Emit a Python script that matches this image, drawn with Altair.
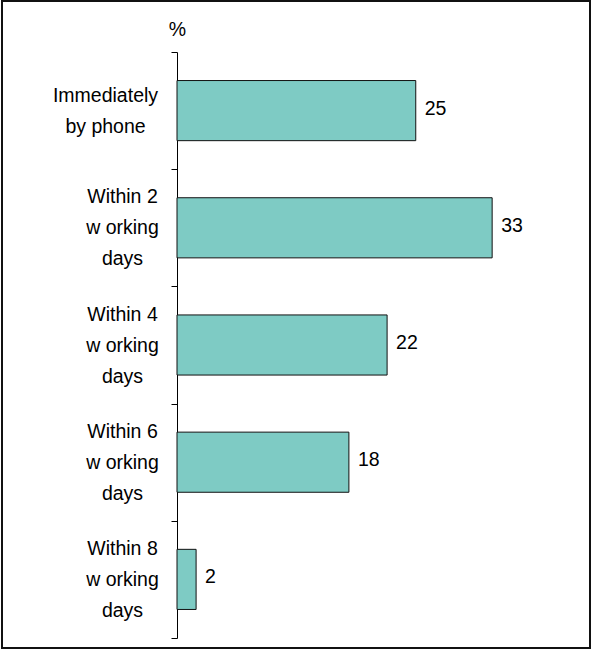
import altair as alt
import pandas as pd

categories = [
    "Immediately|by phone",
    "Within 2|w orking|days",
    "Within 4|w orking|days",
    "Within 6|w orking|days",
    "Within 8|w orking|days",
]
values = [25, 33, 22, 18, 2]

df = pd.DataFrame({"cat": categories, "val": values})

FONT = "Liberation Sans"
FS = 19.5
FIRST = "datum.value == 'Immediately|by phone'"

y_enc = alt.Y(
    "cat:N",
    sort=categories,
    scale=alt.Scale(paddingInner=0, paddingOuter=0),
    axis=alt.Axis(
        title="%",
        titleAngle=0,
        titleX=0,
        titleY=-17,
        titleAlign="center",
        titleBaseline="alphabetic",
        titleFont=FONT,
        titleFontSize=FS,
        titleFontWeight="normal",
        titleColor="black",
        labelExpr="isValid(datum.value) ? split(datum.value, '|') : ''",
        labelFont=FONT,
        labelFontSize=FS,
        labelColor="black",
        labelAlign="center",
        labelBaseline="middle",
        labelLineHeight=31,
        labelPadding={"condition": {"test": FIRST, "value": 66}, "value": 49},
        labelOffset={"condition": {"test": FIRST, "value": -15.5}, "value": -31},
        tickBand="extent",
        tickSize=6,
        tickColor="black",
        tickWidth=1,
        domainColor="black",
        domainWidth=1,
        grid=False,
    ),
)

x_enc = alt.X("val:Q", scale=alt.Scale(domain=[0, 40], nice=False), axis=None)

bars = alt.Chart(df).mark_bar(
    height={"band": 0.513}, fill="#7ECBC4", stroke="#111111", strokeWidth=1
).encode(x=x_enc, y=y_enc)

labels = alt.Chart(df).mark_text(
    align="left", baseline="middle", dx=9, dy=-2, font=FONT, fontSize=FS, color="black"
).encode(x=x_enc, y=alt.Y("cat:N", sort=categories), text="val:Q")

frame = alt.Chart(df).mark_rect(
    fill=None, stroke="#111111", strokeWidth=2
).encode(
    x=alt.value(-175), x2=alt.value(413), y=alt.value(-51), y2=alt.value(596)
)

chart = (
    alt.layer(bars, labels, frame)
    .properties(
        width=382,
        height=586,
        autosize=alt.AutoSizeParams(type="none"),
        padding={"left": 177, "top": 52, "right": 33, "bottom": 13},
        background="white",
    )
    .configure_view(stroke=None)
)

chart.save("out.html", embed_options={"renderer": "svg", "actions": False})
